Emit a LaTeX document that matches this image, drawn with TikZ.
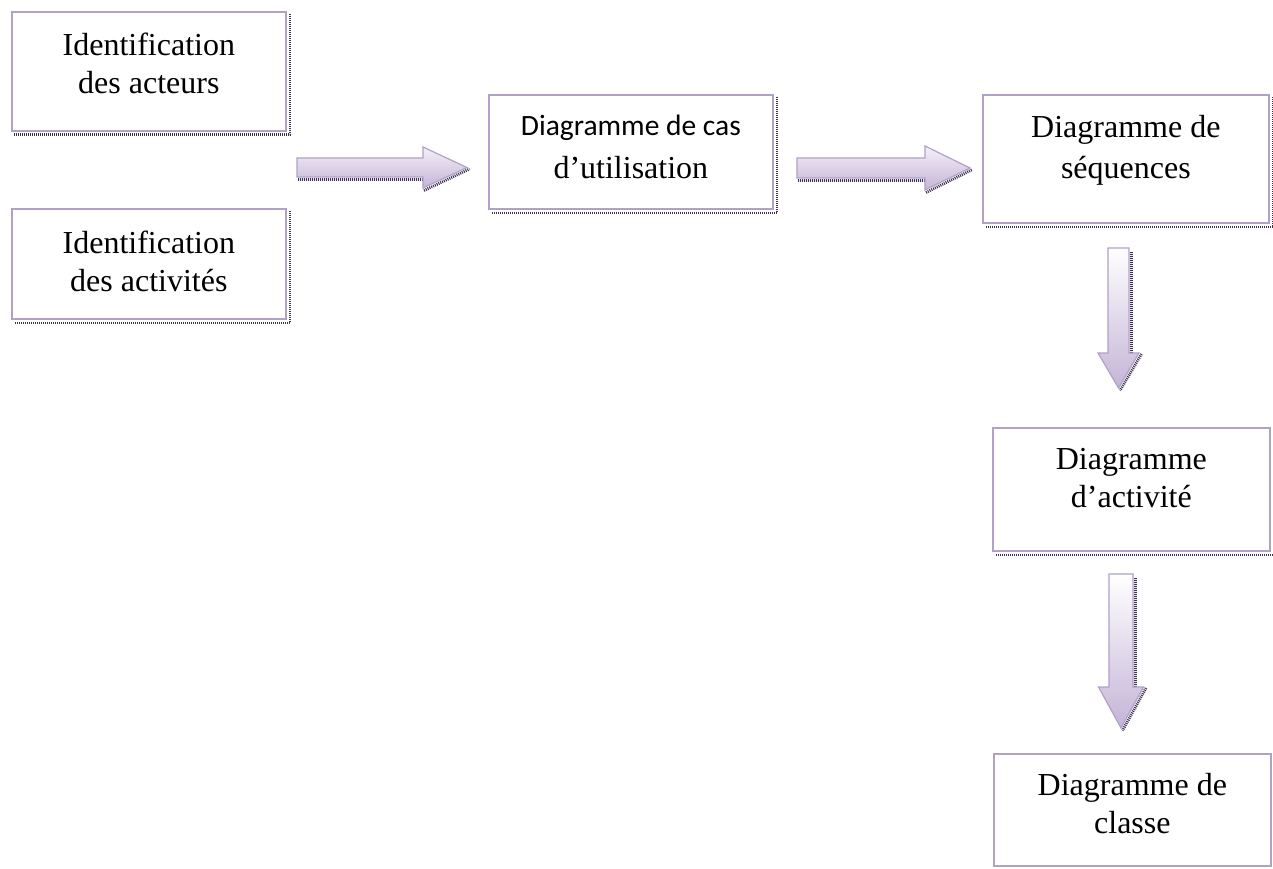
\documentclass[tikz,border=0pt]{standalone}
\usepackage{fontspec}
\setmainfont{Liberation Serif}
\newfontfamily\calfont{Carlito}
\usetikzlibrary{calc}

\definecolor{edge}{HTML}{B2A1C7}
\definecolor{shade}{HTML}{3F3151}
\definecolor{fillhi}{HTML}{F4F1F8}
\definecolor{filllo}{HTML}{C4B4D7}

\newcommand{\serifbig}{\fontsize{32}{38}\selectfont}

\tikzset{
  box/.style={draw=edge, line width=1.7pt, fill=white, rectangle,
              inner sep=0pt, anchor=north west},
  boxtext/.style={anchor=north, align=center, inner sep=0pt, font=\serifbig},
  dropshadow/.style={draw=shade, line width=2.8pt, dash pattern=on 1pt off 1pt},
  blockarrow/.style={draw=edge, line width=1.2pt, top color=fillhi, bottom color=filllo,
                     line join=miter},
}

% right-pointing block arrow: #1 tail point, #2 tip point,
% #3 shaft half-width, #4 head half-width, #5 head length
\newcommand{\rightblock}[5]{%
  \draw[dropshadow]
    ($(#1)+(1,#3+2.5)$) -- ($(#2)+(-#5+1,#3+2.5)$)
    ($(#2)+(-#5+1,#4+2.5)$) -- ($(#2)+(2.5,1.5)$);
  \draw[blockarrow]
    ($(#1)+(0,-#3)$) -- ($(#2)+(-#5,-#3)$) -- ($(#2)+(-#5,-#4)$) -- (#2)
    -- ($(#2)+(-#5,#4)$) -- ($(#2)+(-#5,#3)$) -- ($(#1)+(0,#3)$) -- cycle;
}
% down-pointing block arrow, same parameters
\newcommand{\downblock}[5]{%
  \draw[dropshadow]
    ($(#1)+(#3+2.5,4)$) -- ($(#2)+(#3+2.5,-#5+1)$)
    ($(#2)+(#4+2.5,-#5+1)$) -- ($(#2)+(1.5,2.5)$);
  \draw[blockarrow, top color=white, bottom color=filllo]
    ($(#1)+(-#3,0)$) -- ($(#2)+(-#3,-#5)$) -- ($(#2)+(-#4,-#5)$) -- (#2)
    -- ($(#2)+(#4,-#5)$) -- ($(#2)+(#3,-#5)$) -- ($(#1)+(#3,0)$) -- cycle;
}
% dotted shadow along the right and bottom sides of a box
\newcommand{\boxshadow}[1]{%
  \draw[dropshadow] ($(#1.north east)+(3.2,3)$) -- ($(#1.south east)+(3.2,3.2)$)
                    -- ($(#1.south west)+(3,3.2)$);
}

\begin{document}
\begin{tikzpicture}[x=1pt, y=-1pt]
\useasboundingbox[fill=white] (0,0) rectangle (1273,869);

% boxes
\node[box, minimum width=274pt, minimum height=119pt] (acteurs)   at (11,11)   {};
\node[box, minimum width=274pt, minimum height=110pt] (activites) at (11,208)  {};
\node[box, minimum width=284pt, minimum height=114pt] (cas)       at (488,94)  {};
\node[box, minimum width=286pt, minimum height=128pt] (seq)       at (982,94)  {};
\node[box, minimum width=277pt, minimum height=123pt] (act)       at (992,427) {};
\node[box, minimum width=277pt, minimum height=112pt] (classe)    at (993,753) {};

\foreach \b in {acteurs,activites,cas,seq,act,classe} {\boxshadow{\b}}

% box texts
\node[boxtext] (tacteurs)   at ($(acteurs.north)+(0,22)$)   {Identification\\des acteurs};
\node[boxtext] (tactivites) at ($(activites.north)+(0,23)$) {Identification\\des activités};
\node[boxtext] (tcas)       at ($(cas.north)+(0,21)$)
  {{\calfont\fontsize{29.5}{37}\selectfont Diagramme de cas}\\[5pt]d’utilisation};
\node[boxtext] (tseq)       at ($(seq.north)+(0,21)$)       {Diagramme de\\[3pt]séquences};
\node[boxtext] (tact)       at ($(act.north)+(0,21)$)       {Diagramme\\d’activité};
\node[boxtext] (tclasse)    at ($(classe.north)+(0,20)$)    {Diagramme de\\classe};

% block arrows between the boxes
\coordinate (a1tail) at (297,167.5);
\coordinate (a1tip)  at (467,167.5);
\coordinate (a2tail) at (797,168);
\coordinate (a2tip)  at (970,168);
\coordinate (a3tail) at (1118.5,248);
\coordinate (a3tip)  at (1118.5,388);
\coordinate (a4tail) at (1121,574);
\coordinate (a4tip)  at (1121,728);

\rightblock{a1tail}{a1tip}{9.5}{20.5}{44}
\rightblock{a2tail}{a2tip}{10}{22}{45}
\downblock{a3tail}{a3tip}{10.5}{20.5}{35}
\downblock{a4tail}{a4tip}{12}{22.5}{41}
\end{tikzpicture}
\end{document}
